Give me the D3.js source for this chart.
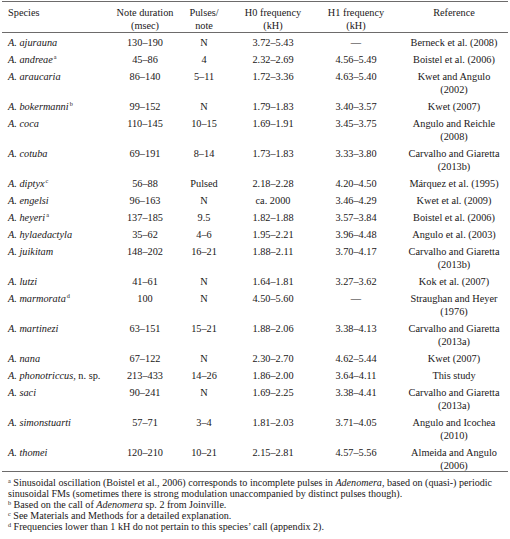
<!DOCTYPE html>
<html>
<head>
<meta charset="utf-8">
<script src="https://cdn.jsdelivr.net/npm/d3@7"></script>
<style>
  html, body { margin: 0; padding: 0; background: #fff; }
  svg text { font-family: "Liberation Serif", "DejaVu Serif", serif; fill: #1a1718; }
</style>
</head>
<body>
<svg id="chart" width="510" height="539"></svg>
<script>
// ---- data ----
const headers = [
  ["Species"],
  ["Note duration", "(msec)"],
  ["Pulses/", "note"],
  ["H0 frequency", "(kH)"],
  ["H1 frequency", "(kH)"],
  ["Reference"]
];
const species = ["ajurauna","andreae","araucaria","bokermanni","coca","cotuba","diptyx","engelsi","heyeri","hylaedactyla","juikitam","lutzi","marmorata","martinezi","nana","phonotriccus","saci","simonstuarti","thomei"];
const speciesSuffix = ["","","","","","","","","","","","","","","",", n. sp.","","",""];
const footMarks = ["","a","","b","","","c","","a","","","","d","","","","","",""];
const noteDuration = ["130–190","45–86","86–140","99–152","110–145","69–191","56–88","96–163","137–185","35–62","148–202","41–61","100","63–151","67–122","213–433","90–241","57–71","120–210"];
const pulsesPerNote = ["N","4","5–11","N","10–15","8–14","Pulsed","N","9.5","4–6","16–21","N","N","15–21","N","14–26","N","3–4","10–21"];
const h0Frequency = ["3.72–5.43","2.32–2.69","1.72–3.36","1.79–1.83","1.69–1.91","1.73–1.83","2.18–2.28","ca. 2000","1.82–1.88","1.95–2.21","1.88–2.11","1.64–1.81","4.50–5.60","1.88–2.06","2.30–2.70","1.86–2.00","1.69–2.25","1.81–2.03","2.15–2.81"];
const h1Frequency = ["—","4.56–5.49","4.63–5.40","3.40–3.57","3.45–3.75","3.33–3.80","4.20–4.50","3.46–4.29","3.57–3.84","3.96–4.48","3.70–4.17","3.27–3.62","—","3.38–4.13","4.62–5.44","3.64–4.11","3.38–4.41","3.71–4.05","4.57–5.56"];
const references = [
  ["Berneck et al. (2008)"],
  ["Boistel et al. (2006)"],
  ["Kwet and Angulo","(2002)"],
  ["Kwet (2007)"],
  ["Angulo and Reichle","(2008)"],
  ["Carvalho and Giaretta","(2013b)"],
  ["Márquez et al. (1995)"],
  ["Kwet et al. (2009)"],
  ["Boistel et al. (2006)"],
  ["Angulo et al. (2003)"],
  ["Carvalho and Giaretta","(2013b)"],
  ["Kok et al. (2007)"],
  ["Straughan and Heyer","(1976)"],
  ["Carvalho and Giaretta","(2013a)"],
  ["Kwet (2007)"],
  ["This study"],
  ["Carvalho and Giaretta","(2013a)"],
  ["Angulo and Icochea","(2010)"],
  ["Almeida and Angulo","(2006)"]
];
const footnotes = [
  {mark:"a", parts:[["Sinusoidal oscillation (Boistel et al., 2006) corresponds to incomplete pulses in ",false],["Adenomera",true],[", based on (quasi-) periodic",false]]},
  {mark:"", parts:[["sinusoidal FMs (sometimes there is strong modulation unaccompanied by distinct pulses though).",false]]},
  {mark:"b", parts:[["Based on the call of ",false],["Adenomera",true],[" sp. 2 from Joinville.",false]]},
  {mark:"c", parts:[["See Materials and Methods for a detailed explanation.",false]]},
  {mark:"d", parts:[["Frequencies lower than 1 kH do not pertain to this species’ call (appendix 2).",false]]}
];

// ---- layout ----
const svg = d3.select("#chart");
const W = 510;
const fs = 10.3;
const lineGap = 13;
const rowBase = 17;

const colKeys = ["species","dur","pul","h0","h1","ref"];
const x = d3.scaleOrdinal().domain(colKeys).range([8, 145, 204, 273, 356, 454]);
const anchor = k => k === "species" ? "start" : "middle";

const rows = species.map((s, i) => ({
  i, s, suf: speciesSuffix[i], mark: footMarks[i],
  dur: noteDuration[i], pul: pulsesPerNote[i], h0: h0Frequency[i], h1: h1Frequency[i], ref: references[i]
}));
let acc = 0;
rows.forEach(r => { r.offset = acc; acc += rowBase + (r.ref.length - 1) * lineGap; });
const y = d3.scaleLinear().domain([0, 1]).range([42, 43]);

// rules
const rule = (yy) => svg.append("line").attr("x1", 2).attr("x2", W - 2)
  .attr("y1", yy).attr("y2", yy).attr("stroke", "#6d6b6b").attr("stroke-width", 1);
rule(1.5);
rule(32.5);

// headers
const hdr = svg.append("g");
headers.forEach((h, ci) => {
  h.forEach((line, li) => {
    hdr.append("text").attr("x", x(colKeys[ci])).attr("y", 16 + li * 13)
      .attr("text-anchor", anchor(colKeys[ci])).attr("font-size", fs).text(line);
  });
});

// body
const body = svg.append("g");
const g = body.selectAll("g.row").data(rows).join("g").attr("class","row")
  .attr("transform", d => `translate(0,${y(d.offset) + 3.5})`);

const sp = g.append("text").attr("x", x("species")).attr("font-size", fs);
sp.append("tspan").attr("font-style","italic").text(d => "A. " + d.s);
sp.filter(d => d.suf).append("tspan").text(d => d.suf);
sp.filter(d => d.mark).append("tspan").attr("font-size", 6.2).attr("dy", -4).attr("dx", 1).text(d => d.mark);

["dur","pul","h0","h1"].forEach(k => {
  g.append("text").attr("x", x(k)).attr("text-anchor","middle").attr("font-size", fs).text(d => d[k]);
});
g.each(function(d) {
  const t = d3.select(this);
  d.ref.forEach((line, li) => {
    t.append("text").attr("x", x("ref")).attr("y", li * lineGap)
      .attr("text-anchor","middle").attr("font-size", fs).text(line);
  });
});

const lastBottom = Math.round(y(acc) - 11.5) + 0.5;
rule(lastBottom);

// footnotes
const fn = svg.append("g");
footnotes.forEach((f, i) => {
  const t = fn.append("text").attr("x", 8).attr("y", lastBottom + 14.5 + i * 11).attr("font-size", 10.1);
  if (f.mark) t.append("tspan").attr("font-size", 6.2).attr("dy", -3.5).text(f.mark);
  f.parts.forEach(([txt, it], pi) => {
    const ts = t.append("tspan").attr("font-style", it ? "italic" : "normal").text((pi === 0 && f.mark ? " " : "") + txt);
    if (pi === 0 && f.mark) ts.attr("dy", 3.5);
  });
});
</script>
</body>
</html>
